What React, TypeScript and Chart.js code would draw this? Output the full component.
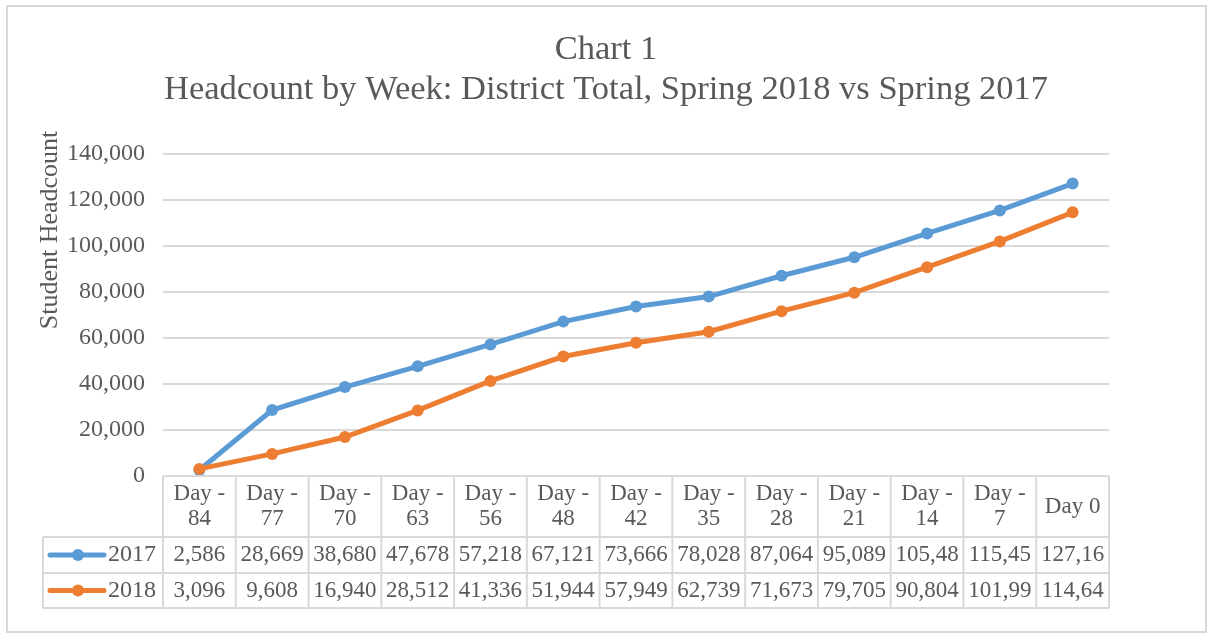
import React, { useEffect, useRef } from "react";
import { Chart, registerables } from "chart.js";

Chart.register(...registerables);

const categories = [
  "Day - 84", "Day - 77", "Day - 70", "Day - 63", "Day - 56", "Day - 48", "Day - 42",
  "Day - 35", "Day - 28", "Day - 21", "Day - 14", "Day - 7", "Day 0",
];
const seriesNames = ["2017", "2018"];
const values2017 = [2586, 28669, 38680, 47678, 57218, 67121, 73666, 78028, 87064, 95089, 105480, 115450, 127160];
const values2018 = [3096, 9608, 16940, 28512, 41336, 51944, 57949, 62739, 71673, 79705, 90804, 101990, 114640];
const yTickValues = [0, 20000, 40000, 60000, 80000, 100000, 120000, 140000];
const titleLines = ["Chart 1", "Headcount by Week: District Total, Spring 2018 vs Spring 2017"];
const yAxisTitle = "Student Headcount";

const FONT = "'Liberation Serif', 'Times New Roman', serif";
const TEXT = "#595959";
const GRID = "#d9d9d9";
const BLUE = "#5B9BD5";
const ORANGE = "#ED7D31";

const fmt = (v: number) => v.toLocaleString("en-US");

function wrapText(ctx: CanvasRenderingContext2D, text: string, maxW: number): string[] {
  const words = text.split(" ");
  const lines: string[] = [];
  let cur = "";
  for (const w of words) {
    const test = cur ? cur + " " + w : w;
    if (ctx.measureText(test).width > maxW && cur) {
      lines.push(cur);
      cur = w;
    } else cur = test;
  }
  if (cur) lines.push(cur);
  return lines;
}

function truncate(ctx: CanvasRenderingContext2D, text: string, maxW: number): string {
  let t = text;
  while (t.length > 1 && ctx.measureText(t).width > maxW) t = t.slice(0, -1);
  return t;
}

const decorPlugin = {
  id: "decor",
  beforeDraw(chart: any) {
    const ctx = chart.ctx as CanvasRenderingContext2D;
    ctx.save();
    ctx.fillStyle = "#ffffff";
    ctx.fillRect(0, 0, chart.width, chart.height);
    ctx.strokeStyle = GRID;
    ctx.lineWidth = 2;
    ctx.strokeRect(7, 6, 1199, 626);
    ctx.restore();
  },
  afterDraw(chart: any) {
    const ctx = chart.ctx as CanvasRenderingContext2D;
    const area = chart.chartArea;
    const xs = chart.scales.x;
    ctx.save();

    // Titles
    ctx.fillStyle = TEXT;
    ctx.textAlign = "center";
    ctx.textBaseline = "alphabetic";
    ctx.font = `34.5px ${FONT}`;
    ctx.fillText(titleLines[0], 606, 59);
    ctx.fillText(titleLines[1], 606, 99);

    // Y axis title
    ctx.save();
    ctx.translate(50, 230);
    ctx.rotate(-Math.PI / 2);
    ctx.font = `26px ${FONT}`;
    ctx.textBaseline = "middle";
    ctx.fillText(yAxisTitle, 0, 0);
    ctx.restore();

    // Data table
    const n = categories.length;
    const cellW = (area.right - area.left) / n;
    const top = area.bottom;
    const headerBottom = top + 61;
    const row1Bottom = headerBottom + 36;
    const row2Bottom = row1Bottom + 35;
    const legendLeft = 43;

    ctx.strokeStyle = GRID;
    ctx.lineWidth = 2;
    const line = (x1: number, y1: number, x2: number, y2: number) => {
      ctx.beginPath();
      ctx.moveTo(x1, y1);
      ctx.lineTo(x2, y2);
      ctx.stroke();
    };
    line(area.left, top, area.right, top);
    line(legendLeft, headerBottom, area.right, headerBottom);
    line(legendLeft, row1Bottom, area.right, row1Bottom);
    line(legendLeft, row2Bottom, area.right, row2Bottom);
    line(legendLeft, headerBottom, legendLeft, row2Bottom);
    for (let i = 0; i < n; i++) {
      const xl = xs.getPixelForValue(i) - cellW / 2;
      line(xl, top, xl, row2Bottom);
    }
    line(area.right, top, area.right, row2Bottom);

    ctx.font = `23px ${FONT}`;
    ctx.fillStyle = TEXT;
    ctx.textAlign = "center";
    ctx.textBaseline = "middle";
    const headerMid = (top + headerBottom) / 2;
    const lh = 25;
    categories.forEach((c, i) => {
      const cx = xs.getPixelForValue(i);
      const lines = wrapText(ctx, c, cellW - 6);
      const startY = headerMid - ((lines.length - 1) * lh) / 2;
      lines.forEach((l, k) => ctx.fillText(l, cx, startY + k * lh));
    });

    const rows = [
      { name: seriesNames[0], vals: values2017, color: BLUE, y: (headerBottom + row1Bottom) / 2 },
      { name: seriesNames[1], vals: values2018, color: ORANGE, y: (row1Bottom + row2Bottom) / 2 },
    ];
    rows.forEach((r) => {
      ctx.fillStyle = TEXT;
      ctx.textAlign = "center";
      r.vals.forEach((v, i) => {
        const cx = xs.getPixelForValue(i);
        ctx.fillText(truncate(ctx, fmt(v), cellW - 2), cx, r.y);
      });
      // legend key
      ctx.strokeStyle = r.color;
      ctx.lineWidth = 5;
      ctx.lineCap = "round";
      line(legendLeft + 7, r.y, legendLeft + 61, r.y);
      ctx.fillStyle = r.color;
      ctx.beginPath();
      ctx.arc(legendLeft + 35, r.y, 6, 0, Math.PI * 2);
      ctx.fill();
      ctx.font = `24px ${FONT}`;
      ctx.fillStyle = TEXT;
      ctx.textAlign = "left";
      ctx.fillText(r.name, legendLeft + 65, r.y);
      ctx.font = `23px ${FONT}`;
      ctx.strokeStyle = GRID;
      ctx.lineWidth = 2;
      ctx.lineCap = "butt";
    });

    ctx.restore();
  },
};

export default function App() {
  const ref = useRef<HTMLCanvasElement | null>(null);
  useEffect(() => {
    if (!ref.current) return;
    const chart = new Chart(ref.current, {
      type: "line",
      data: {
        labels: categories,
        datasets: [
          {
            label: seriesNames[0],
            data: values2017,
            borderColor: BLUE,
            backgroundColor: BLUE,
            pointBackgroundColor: BLUE,
            pointBorderColor: BLUE,
            borderWidth: 5,
            pointRadius: 6,
            pointBorderWidth: 0,
            order: 1,
          },
          {
            label: seriesNames[1],
            data: values2018,
            borderColor: ORANGE,
            backgroundColor: ORANGE,
            pointBackgroundColor: ORANGE,
            pointBorderColor: ORANGE,
            borderWidth: 5,
            pointRadius: 6,
            pointBorderWidth: 0,
            order: 0,
          },
        ],
      },
      options: {
        responsive: false,
        animation: false,
        devicePixelRatio: 1,
        layout: { padding: { left: 0, top: 154, right: 98, bottom: 162 } },
        plugins: {
          legend: { display: false },
          title: { display: false },
          tooltip: { enabled: false },
        },
        scales: {
          x: {
            type: "category",
            offset: true,
            display: false,
          },
          y: {
            min: 0,
            max: 140000,
            afterFit: (scale: any) => {
              scale.width = 163;
              scale.paddingTop = 0;
              scale.paddingBottom = 0;
            },
            afterBuildTicks: (scale: any) => {
              scale.ticks = yTickValues.map((v) => ({ value: v }));
            },
            border: { display: false },
            grid: { color: GRID, lineWidth: 2, drawTicks: false },
            ticks: {
              padding: 18,
              color: TEXT,
              font: { family: FONT, size: 24 },
              callback: (v: any) => fmt(Number(v)),
            },
          },
        },
      },
      plugins: [decorPlugin],
    } as any);
    return () => chart.destroy();
  }, []);
  return (
    <div style={{ position: "fixed", left: 0, top: 0, width: 1207, height: 638, background: "#fff" }}>
      <canvas ref={ref} width={1207} height={638} style={{ display: "block", width: 1207, height: 638 }} />
    </div>
  );
}
